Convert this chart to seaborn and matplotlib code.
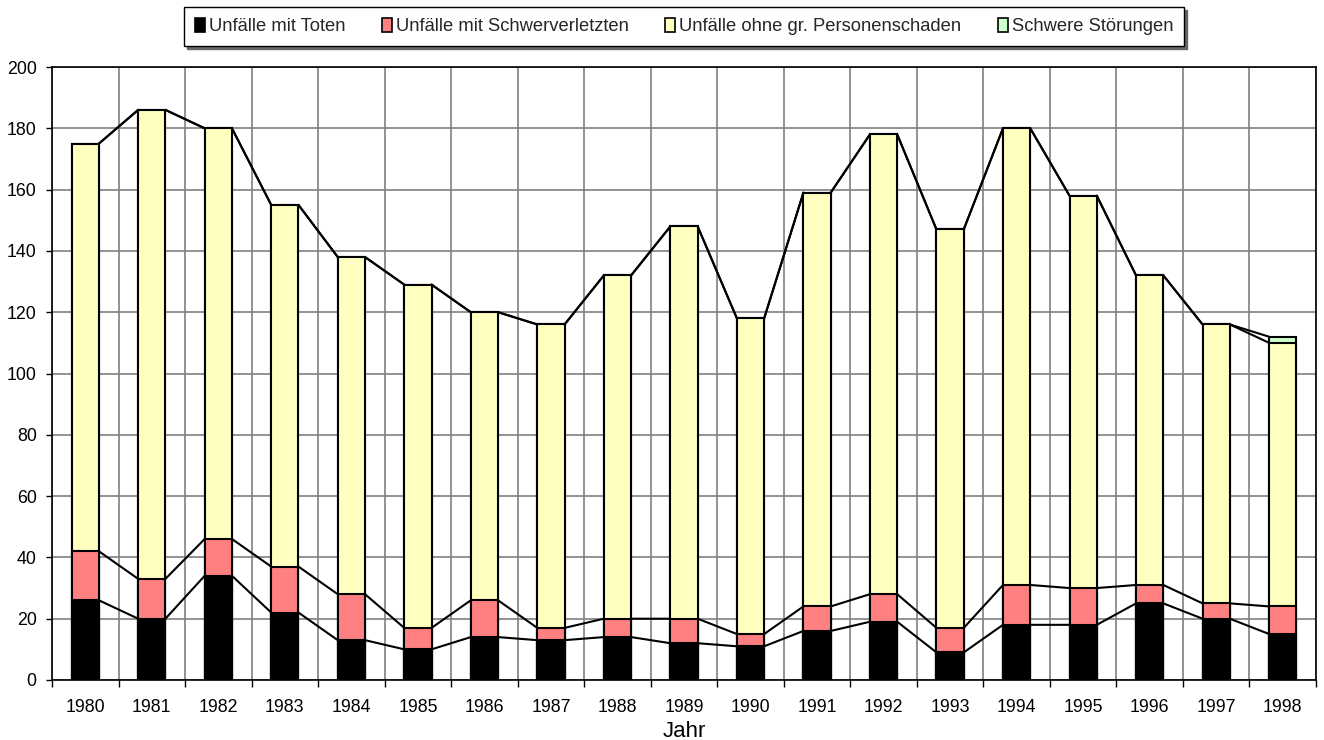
import numpy as np
import pandas as pd
import matplotlib
matplotlib.use("Agg")
import matplotlib.pyplot as plt
import seaborn as sns
from matplotlib.patches import Patch
from matplotlib import font_manager as fm

# ---- data ----
years = [str(y) for y in range(1980, 1999)]
toten = [26, 20, 34, 22, 13, 10, 14, 13, 14, 12, 11, 16, 19, 9, 18, 18, 25, 20, 15]
schwer = [16, 13, 12, 15, 15, 7, 12, 4, 6, 8, 4, 8, 9, 8, 13, 12, 6, 5, 9]
ohne = [133, 153, 134, 118, 110, 112, 94, 99, 112, 128, 103, 135, 150, 130, 149, 128, 101, 91, 86]
stoer = [0, 0, 0, 0, 0, 0, 0, 0, 0, 0, 0, 0, 0, 0, 0, 0, 0, 0, 2]
series_names = ["Unfälle mit Toten", "Unfälle mit Schwerverletzten",
                "Unfälle ohne gr. Personenschaden", "Schwere Störungen"]
colors = ["#000000", "#FF8080", "#FFFFC0", "#CCFFCC"]
yticks = list(range(0, 201, 20))

sns.set_theme(style="white")
names = {f.name for f in fm.fontManager.ttflist}
if "Liberation Sans Narrow" in names:
    tick_family, tick_size, leg_size = "Liberation Sans Narrow", 14.5, 15
else:
    tick_family, tick_size, leg_size = "Liberation Sans", 12.8, 13.2
plt.rcParams["font.family"] = ["Liberation Sans", "DejaVu Sans"]

fig = plt.figure(figsize=(13.24, 7.4), dpi=100)
ax = fig.add_axes([52 / 1324, 1 - 680 / 740, (1316 - 52) / 1324, (680 - 67) / 740])

layers = np.cumsum(np.array([toten, schwer, ohne, stoer], dtype=float), axis=0)
bar_w = 0.41
for k in range(3, -1, -1):
    df = pd.DataFrame({"Jahr": years, "v": layers[k]})
    sns.barplot(data=df, x="Jahr", y="v", color=colors[k], saturation=1,
                width=bar_w, edgecolor="black", linewidth=1.5, errorbar=None,
                ax=ax, zorder=3)

# Excel-style series lines between bars
n = len(years)
for k in range(4):
    xs, ys = [], []
    for i in range(n - 1):
        xs += [i + bar_w / 2, i + 1 - bar_w / 2, np.nan]
        ys += [layers[k][i], layers[k][i + 1], np.nan]
    ax.plot(xs, ys, color="black", lw=1.5, zorder=4)

ax.set_xlim(-0.5, n - 0.5)
ax.set_ylim(0, 200)
ax.set_yticks(yticks)
ax.set_xticks(range(n))
ax.set_xticklabels(years)
ax.set_xticks(np.arange(-0.5, n, 1), minor=True)
ax.set_axisbelow(True)
ax.yaxis.grid(True, color="#808080", lw=1.2)
ax.xaxis.grid(True, which="minor", color="#808080", lw=1.2)
ax.xaxis.grid(False, which="major")
ax.tick_params(axis="x", which="major", length=0, pad=14)
ax.tick_params(axis="x", which="minor", length=5, width=1, color="black", direction="out", bottom=True)
ax.tick_params(axis="y", length=4, width=1, color="black", direction="out", left=True, pad=7)
for lab in ax.get_xticklabels() + ax.get_yticklabels():
    lab.set_fontfamily([tick_family, "DejaVu Sans"])
    lab.set_fontsize(tick_size)
    lab.set_color("black")
for sp in ax.spines.values():
    sp.set_color("black")
    sp.set_linewidth(1.2)
ax.set_ylabel("")
ax.set_xlabel("Jahr", fontsize=16, color="black", labelpad=3)

handles = [Patch(facecolor=c, edgecolor="black", lw=1.2) for c in colors]
leg = fig.legend(handles, series_names, loc="upper center",
                 bbox_to_anchor=(684 / 1324, 1 - 7 / 740), ncol=4, frameon=True,
                 fancybox=False, edgecolor="black", handlelength=0.55,
                 handleheight=0.8, handletextpad=0.2, columnspacing=2.0,
                 borderpad=0.6, borderaxespad=0,
                 prop={"family": [tick_family, "DejaVu Sans"], "size": leg_size},
                 shadow={"color": "#666666", "alpha": 1})
leg.get_frame().set_linewidth(1)

fig.savefig("out.png", dpi=100)
